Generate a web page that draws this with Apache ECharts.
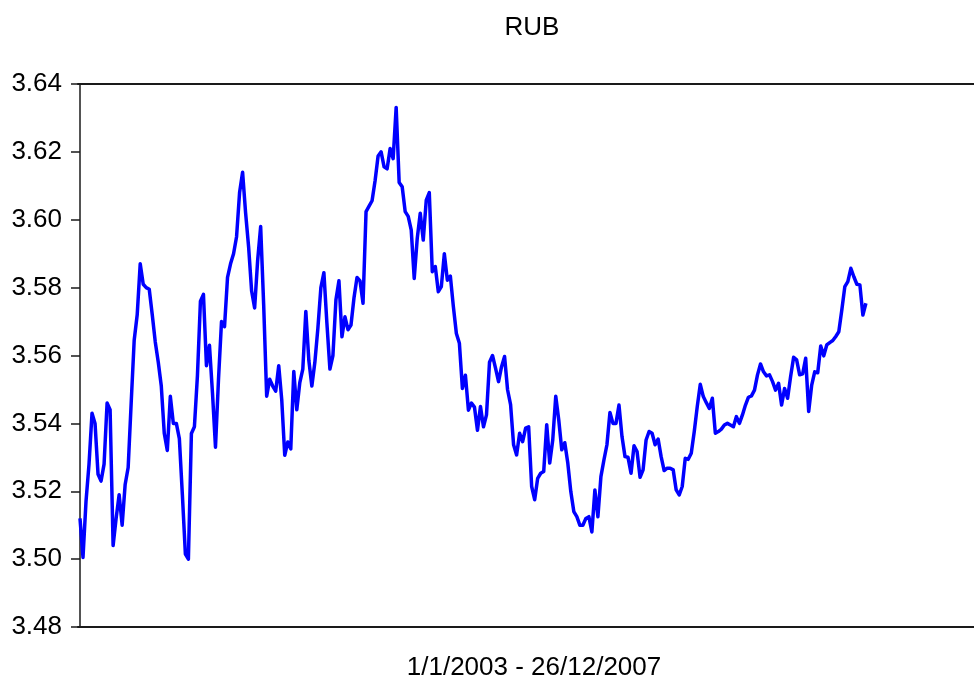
<!DOCTYPE html>
<html lang="en">
<head>
    <meta charset="UTF-8">
    <title>RUB</title>
    <script src="https://cdn.jsdelivr.net/npm/echarts@6/dist/echarts.min.js"></script>
    <style>
        html, body { margin: 0; padding: 0; background: #fff; }
        #main { width: 974px; height: 682px; }
    </style>
</head>
<body>
    <div id="main"></div>
    <script>
        // chart texts
        var chartTitle = 'RUB';
        var periodLabel = '1/1/2003 - 26/12/2007';

        // y axis ticks
        var yMin = 3.48, yMax = 3.64, yStep = 0.02;

        // weekly RUB values, 1/1/2003 .. 26/12/2007
        var rub = [
            3.512, 3.5005, 3.517, 3.528, 3.543, 3.540, 3.525, 3.523, 3.528, 3.546,
            3.544, 3.504, 3.512, 3.519, 3.510, 3.522, 3.527, 3.546, 3.5645, 3.572,
            3.587, 3.581, 3.580, 3.5795, 3.572, 3.564, 3.558, 3.551, 3.537, 3.532,
            3.548, 3.540, 3.540, 3.5355, 3.519, 3.5015, 3.500, 3.537, 3.539, 3.554,
            3.576, 3.578, 3.557, 3.563, 3.549, 3.533, 3.553, 3.570, 3.5685, 3.583,
            3.587, 3.590, 3.595, 3.608, 3.614, 3.602, 3.592, 3.579, 3.574, 3.588,
            3.598, 3.575, 3.548, 3.553, 3.551, 3.5495, 3.557, 3.547, 3.5306, 3.5345,
            3.5325, 3.5553, 3.544, 3.552, 3.556, 3.573, 3.5586, 3.551, 3.558, 3.568,
            3.580, 3.5844, 3.5695, 3.556, 3.560, 3.5764, 3.582, 3.5655, 3.5714, 3.5676,
            3.569, 3.577, 3.583, 3.582, 3.5754, 3.6024, 3.604, 3.6056, 3.6115, 3.6188,
            3.620, 3.6156, 3.615, 3.621, 3.618, 3.6331, 3.611, 3.6097, 3.6024, 3.601,
            3.597, 3.5827, 3.5945, 3.6019, 3.594, 3.6058, 3.608, 3.5847, 3.5862, 3.5788,
            3.5803, 3.590, 3.5822, 3.5834, 3.5744, 3.5665, 3.5636, 3.5503, 3.5542, 3.5439,
            3.546, 3.5448, 3.538, 3.545, 3.539, 3.5425, 3.558, 3.560, 3.5563, 3.5523,
            3.5567, 3.5597, 3.5499, 3.5455, 3.5337, 3.5307, 3.5371, 3.5346, 3.5386, 3.539,
            3.5214, 3.5175, 3.5238, 3.5253, 3.5258, 3.5396, 3.5283, 3.5351, 3.548, 3.541,
            3.5322, 3.5343, 3.5283, 3.5199, 3.514, 3.5125, 3.510, 3.510, 3.512, 3.5125,
            3.508, 3.5204, 3.5125, 3.5243, 3.5292, 3.5337, 3.5432, 3.540, 3.540, 3.5454,
            3.5361, 3.5302, 3.530, 3.5253, 3.5334, 3.5317, 3.5241, 3.5263, 3.5351, 3.5376,
            3.5371, 3.5337, 3.5354, 3.5302, 3.5261, 3.5268, 3.5268, 3.5263, 3.5204, 3.5189,
            3.5214, 3.5297, 3.5294, 3.5312, 3.5376, 3.545, 3.5515, 3.5479, 3.5461, 3.5444,
            3.5474, 3.5371, 3.5376, 3.5383, 3.5395, 3.540, 3.5395, 3.539, 3.542, 3.540,
            3.5425, 3.5454, 3.5477, 3.5481, 3.5498, 3.5543, 3.5575, 3.5552, 3.554, 3.5543,
            3.5523, 3.5498, 3.5518, 3.5454, 3.5503, 3.5474, 3.5538, 3.5595, 3.5587, 3.5543,
            3.5546, 3.5592, 3.5435, 3.5513, 3.5552, 3.5549, 3.5628, 3.5599, 3.5631, 3.5638,
            3.5644, 3.5656, 3.567, 3.5734, 3.5803, 3.5818, 3.5857, 3.5832, 3.581, 3.5808,
            3.5719, 3.5754
        ];

        var myChart = echarts.init(document.getElementById('main'));

        var axisColor = '#1a1a1a';
        var font = '"Liberation Sans", Arial, sans-serif';

        // the x axis runs past the last observation (empty space on the right)
        var xAxisBase = {
            type: 'value',
            min: -0.66,
            max: 296.9,
            axisLine: { show: true, lineStyle: { color: axisColor, width: 2 } },
            axisTick: { show: false },
            axisLabel: { show: false },
            splitLine: { show: false }
        };

        var option = {
            animation: false,
            backgroundColor: '#fff',
            grid: { left: 78, right: 0, top: 84, bottom: 55, containLabel: false, outerBoundsMode: 'none' },
            graphic: [
                {
                    type: 'text', x: 532, y: 28,
                    style: { text: chartTitle, font: '26px ' + font, fill: '#000', align: 'center', verticalAlign: 'middle' }
                },
                {
                    type: 'text', x: 534, y: 668,
                    style: { text: periodLabel, font: '26px ' + font, fill: '#000', align: 'center', verticalAlign: 'middle' }
                }
            ],
            xAxis: [
                Object.assign({}, xAxisBase, { position: 'bottom' }),
                Object.assign({}, xAxisBase, { position: 'top' })
            ],
            yAxis: {
                type: 'value',
                min: yMin,
                max: yMax,
                interval: yStep,
                axisLine: { show: true, lineStyle: { color: axisColor, width: 1.5 } },
                axisTick: { show: true, inside: false, length: 9, lineStyle: { color: axisColor, width: 1.5 } },
                axisLabel: {
                    margin: 16,
                    color: '#000',
                    fontSize: 26,
                    fontFamily: font,
                    formatter: function (v) { return v.toFixed(2); }
                },
                splitLine: { show: false }
            },
            series: [{
                type: 'line',
                xAxisIndex: 0,
                data: rub.map(function (v, i) { return [i, v]; }),
                showSymbol: false,
                symbol: 'none',
                lineStyle: { color: '#0000ff', width: 3.5, join: 'round' }
            }]
        };

        myChart.setOption(option);
    </script>
</body>
</html>
